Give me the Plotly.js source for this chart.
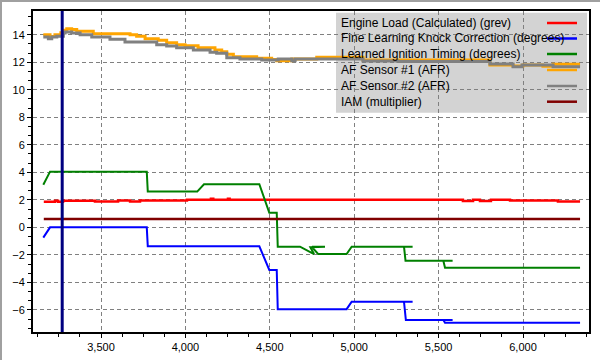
<!DOCTYPE html>
<html>
<head>
<meta charset="utf-8">
<script src="https://cdn.plot.ly/plotly-3.0.1.min.js"></script>
<style>
  html, body { margin: 0; padding: 0; background: #ffffff; }
  #chart { width: 600px; height: 360px; }
</style>
</head>
<body>
<div id="chart"></div>
<script>
// ---- Data (x = engine RPM) ----
const seriesNames = [
  "Engine Load (Calculated) (grev)",
  "Fine Learning Knock Correction (degrees)",
  "Learned Ignition Timing (degrees)",
  "AF Sensor #1 (AFR)",
  "AF Sensor #2 (AFR)",
  "IAM (multiplier)"
];

const loadRpm = [3161,3227,3245,3275,3464,3601,3672,3731,4009,4151,4165,4252,4262,5644,5704,5745,5810,5923,6207,6338];
const loadVal = [1.86,1.93,1.86,1.93,1.88,1.95,1.88,1.95,2.0,2.07,2.0,2.07,2.0,1.92,2.0,1.92,2.0,1.95,1.87,1.87];

const knockRpm = [3158,3198,3771,3777,4438,4497,4541,4547,4955,4985,5346,5295,5306,5583,5528,5538,6338];
const knockVal = [-0.75,0,0,-1.38,-1.38,-3.1,-3.1,-5.95,-5.95,-5.41,-5.41,-5.41,-6.74,-6.74,-6.74,-6.94,-6.94];

const timingRpm = [3158,3198,3771,3777,4070,4086,4110,4438,4497,4541,4547,4679,4738,4762,4740,4827,4750,4762,4786,4955,4985,5346,5295,5304,5583,5528,5538,6338];
const timingVal = [3.1,4.05,4.05,2.6,2.6,2.79,3.13,3.13,1.06,1.06,-1.41,-1.41,-1.75,-1.94,-1.45,-1.41,-1.41,-1.6,-1.94,-1.94,-1.41,-1.41,-1.41,-2.43,-2.43,-2.43,-2.94,-2.94];

const afr1Rpm = [3158,3198,3227,3262,3277,3297,3326,3356,3454,3672,3711,3761,3839,3889,3948,3998,4075,4175,4215,4245,4284,4422,4511,4541,4630,4778,5052,5804,5941,6000,6118,6178,6338];
const afr1Val = [14.0,13.88,14.0,14.15,14.33,14.44,14.38,14.25,14.08,14.0,13.9,13.72,13.6,13.43,13.28,13.21,13.06,12.9,12.77,12.58,12.41,12.29,12.2,12.12,12.24,12.36,12.17,11.8,11.73,11.8,11.72,11.85,11.85];

const afr2Rpm = [3158,3188,3208,3238,3277,3287,3326,3376,3445,3553,3642,3830,3889,3948,4047,4146,4185,4245,4323,4452,4550,4630,4650,5052,5259,5804,5941,5994,6178,6338];
const afr2Val = [13.84,13.72,13.84,13.9,14.13,14.2,14.13,14.0,13.84,13.67,13.48,13.28,13.19,13.06,12.9,12.73,12.65,12.33,12.24,12.17,12.24,12.12,12.24,12.09,12.05,11.88,11.68,11.8,11.68,11.68];

const iamRpm = [3161,6338];
const iamVal = [0.6,0.6];

const cursorRpm = 3270;

const xTickVals = [3500,4000,4500,5000,5500,6000];
const yTickVals = [-6,-4,-2,0,2,4,6,8,10,12,14];

// ---- Styles ----
const colors = ["#ff0000","#0000ff","#008000","#ffa500","#808080","#800000"];
const widths = [2.5,2,2,3,3,2.5];
const shapesLine = ["hv","linear","linear","hv","hv","linear"];
const xs = [loadRpm, knockRpm, timingRpm, afr1Rpm, afr2Rpm, iamRpm];
const ys = [loadVal, knockVal, timingVal, afr1Val, afr2Val, iamVal];

const traces = seriesNames.map((n, i) => ({
  type: "scatter",
  mode: "lines",
  name: n,
  x: xs[i],
  y: ys[i],
  line: { color: colors[i], width: widths[i], shape: shapesLine[i] },
  showlegend: false,
  hoverinfo: "skip"
}));

// Manual legend (text left, sample line right)
const L = 33, R = 11, T = 11, B = 28, W = 600, H = 360;
const pw = W - L - R, ph = H - T - B;
const px = v => (v - L) / pw;
const py = v => (H - B - v) / ph;
const rowY = [23, 38.5, 54, 70, 86, 101.7];

const annotations = seriesNames.map((n, i) => ({
  xref: "paper", yref: "paper",
  x: px(339), y: py(rowY[i]),
  xanchor: "left", yanchor: "middle",
  text: n, showarrow: false,
  font: { family: "Liberation Sans, Arial, sans-serif", size: 12, color: "#000000" }
}));

const shapes = [
  { type: "rect", xref: "paper", yref: "paper", layer: "below",
    x0: px(336), x1: px(587), y0: py(112.7), y1: py(12.7),
    fillcolor: "#d3d3d3", line: { width: 0 } },
  { type: "line", xref: "x", yref: "paper", x0: cursorRpm, x1: cursorRpm, y0: 0, y1: 1,
    line: { color: "#000080", width: 3 } },
  { type: "line", xref: "paper", yref: "paper", x0: px(1), x1: px(1), y0: py(0), y1: py(360),
    line: { color: "#a0a0a0", width: 2 } },
  { type: "line", xref: "paper", yref: "paper", x0: px(0), x1: px(600), y0: py(1), y1: py(1),
    line: { color: "#a0a0a0", width: 2 } }
].concat(seriesNames.map((n, i) => ({
  type: "line", xref: "paper", yref: "paper",
  x0: px(547), x1: px(577), y0: py(rowY[i]), y1: py(rowY[i]),
  line: { color: colors[i], width: 2.5 }
})));

const layout = {
  width: W, height: H,
  margin: { l: L, r: R, t: T, b: B, pad: 0 },
  paper_bgcolor: "#ffffff",
  plot_bgcolor: "#ffffff",
  showlegend: false,
  font: { family: "Liberation Sans, Arial, sans-serif", size: 11, color: "#000000" },
  xaxis: {
    range: [3097, 6391],
    tickvals: xTickVals,
    ticktext: xTickVals.map(v => v.toLocaleString("en-US")),
    ticks: "outside", ticklen: 4, tickwidth: 1, tickcolor: "#000",
    minor: { dtick: 125, tick0: 3000, ticks: "outside", ticklen: 3, tickcolor: "#000", showgrid: false },
    showline: true, linecolor: "#000", linewidth: 2, mirror: true,
    showgrid: true, gridcolor: "#808080", gridwidth: 1, griddash: "4px,3px",
    zeroline: false,
    tickfont: { size: 11, color: "#000" }
  },
  yaxis: {
    range: [-7.61, 15.73],
    tickvals: yTickVals,
    ticks: "outside", ticklen: 4, tickwidth: 1, tickcolor: "#000",
    minor: { dtick: 2/3, tick0: 0, ticks: "outside", ticklen: 3, tickcolor: "#000", showgrid: false },
    showline: true, linecolor: "#000", linewidth: 2, mirror: true,
    showgrid: true, gridcolor: "#808080", gridwidth: 1, griddash: "4px,3px",
    zeroline: false,
    tickfont: { size: 11, color: "#000" }
  },
  shapes: shapes,
  annotations: annotations
};

Plotly.newPlot("chart", traces, layout, { staticPlot: true, displayModeBar: false });
</script>
</body>
</html>
